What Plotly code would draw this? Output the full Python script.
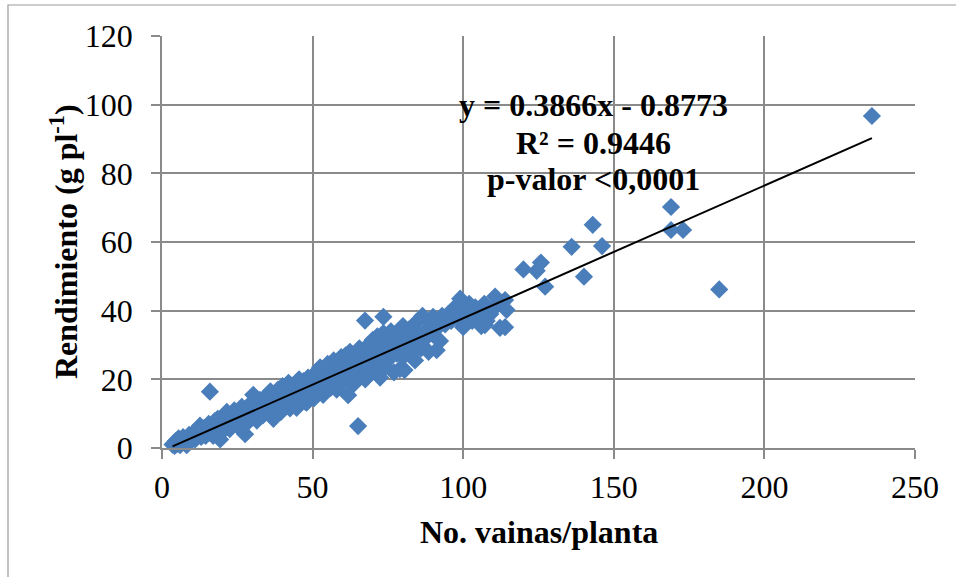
import plotly.graph_objects as go

# Pods per plant (x) and yield per plant (y), one entry per plant
vainas = [
    3.5, 4.2, 4.5, 5.0, 5.5, 6.0, 6.5, 7.0, 7.5, 8.0, 8.2, 9.0, 9.5, 10.0,
    10.5, 11.0, 11.5, 12.0, 12.6, 13.0, 13.5, 14.0, 14.5, 15.0, 15.5, 15.9, 16.0, 16.5,
    17.0, 17.5, 18.0, 18.5, 19.0, 19.3, 20.0, 20.0,
    20.5, 21.0, 21.5, 22.0, 22.5, 23.0, 23.5, 24.0, 24.5, 25.0, 25.5, 26.0, 26.5, 27.0,
    27.6, 28.0, 28.5, 29.0, 29.5, 30.0, 30.3, 30.5,
    31.0, 31.5, 32.0, 32.5, 33.0, 33.5, 34.0, 34.5, 35.0, 35.5, 36.0, 36.5, 37.0, 37.5,
    38.0, 38.5, 39.0, 39.5, 40.0, 40.0,
    40.5, 41.0, 41.5, 42.0, 42.5, 43.0, 43.5, 44.0, 44.7, 45.0, 45.5, 46.0, 46.5, 47.0,
    47.5, 48.0, 48.0, 48.5, 49.0, 49.5, 50.0, 50.0,
    50.5, 51.0, 51.5, 52.0, 52.5, 53.0, 53.5, 54.0, 54.5, 55.0, 55.5, 56.0, 56.5, 57.0,
    57.5, 58.0, 58.5, 59.0, 59.5, 60.0, 60.0,
    60.5, 61.0, 61.8, 62.0, 62.4, 62.5, 63.0, 63.5, 64.0, 64.5, 65.1, 65.0, 65.5, 66.0,
    66.5, 67.0, 67.4, 67.5, 68.0, 68.5, 69.0, 69.5, 70.0, 70.0,
    70.5, 71.0, 71.5, 72.0, 72.4, 73.0, 73.5, 73.5, 74.0, 74.5, 75.0, 75.5, 76.0, 76.5,
    77.0, 77.5, 78.0, 78.0, 79.0, 79.5, 80.0, 80.0,
    80.5, 81.0, 81.5, 82.0, 83.0, 83.5, 84.0, 84.5, 85.0, 86.0, 86.5, 87.0, 88.0, 88.5,
    89.0, 90.0, 90.0, 91.2,
    92.0, 92.3, 93.0, 94.0, 95.0, 96.0, 97.0, 97.8, 98.0, 99.0, 100.0, 100.5,
    102.0, 103.0, 104.0, 105.0, 106.0, 106.7, 107.0, 107.2, 107.8, 109.0, 110.6, 111.0,
    112.2, 113.9, 114.4, 113.9,
    120.0, 124.4, 125.8, 127.2, 136.0, 140.1, 143.0, 146.1, 169.0, 169.0, 173.0, 185.0,
    235.7,
]
rendimiento = [
    1.0, 0.6, 2.0, 1.2, 2.8, 0.8, 2.0, 3.2, 1.5, 2.5, 0.8, 3.8, 2.0, 3.0,
    4.5, 2.5, 3.8, 5.0, 6.5, 3.2, 4.8, 5.8, 3.5, 5.2, 7.0, 16.4, 4.5, 6.0,
    3.5, 7.8, 5.5, 8.5, 6.5, 2.5, 7.5, 4.8,
    9.0, 6.0, 10.5, 8.0, 5.5, 9.5, 7.0, 11.0, 8.5, 6.5, 10.0, 8.0, 12.0, 9.0,
    4.0, 11.5, 7.5, 10.0, 13.0, 9.0, 15.5, 11.5,
    12.5, 8.0, 10.5, 14.0, 11.5, 9.5, 13.0, 15.0, 11.0, 13.5, 16.5, 12.0, 8.5, 14.5,
    12.0, 17.0, 13.5, 10.5, 15.5, 18.0,
    12.5, 16.0, 14.0, 19.0, 11.5, 16.5, 14.5, 18.5, 11.7, 16.0, 20.0, 14.5, 17.5, 19.5,
    13.5, 13.2, 17.0, 20.5, 15.5, 18.5, 21.0, 16.5,
    14.5, 19.0, 22.0, 17.0, 23.5, 20.0, 15.5, 18.5, 22.5, 24.5, 19.5, 17.5, 21.5, 25.5,
    23.0, 17.0, 20.5, 24.0, 26.5, 22.0, 19.0,
    25.0, 27.0, 15.4, 21.0, 28.0, 23.5, 26.0, 18.5, 24.5, 27.5, 6.4, 21.5, 29.0, 25.0,
    23.0, 28.0, 37.1, 20.0, 26.5, 30.0, 24.0, 27.5, 31.5, 22.5,
    29.0, 25.5, 32.5, 27.0, 20.5, 30.0, 38.2, 33.5, 23.5, 28.5, 31.0, 26.0, 34.0, 29.5,
    22.0, 32.0, 27.5, 33.5, 23.0, 30.5, 35.5, 26.5,
    22.7, 32.0, 29.0, 34.5, 28.0, 31.5, 25.5, 36.7, 33.5, 29.0, 38.5, 31.5, 34.5, 28.0,
    37.0, 38.2, 33.0, 28.5,
    35.5, 31.2, 38.5, 36.0, 39.0, 37.0, 40.0, 41.4, 38.0, 43.5, 35.2, 40.0,
    42.0, 37.0, 41.0, 39.0, 35.5, 40.2, 42.0, 35.8, 37.0, 39.0, 44.1, 41.4,
    35.0, 43.1, 40.2, 35.2,
    52.0, 51.6, 54.0, 47.0, 58.6, 49.9, 65.0, 58.8, 70.2, 63.5, 63.5, 46.2,
    96.7,
]

# Linear fit reported on the chart
pendiente = 0.3866
intercepto = -0.8773
ecuacion = ["y = 0.3866x - 0.8773", "R² = 0.9446", "p-valor <0,0001"]

x_ticks = [0, 50, 100, 150, 200, 250]
y_ticks = [0, 20, 40, 60, 80, 100, 120]

AZUL = "#4A7EBB"
GRIS = "#8A8A8A"
SERIF = "Liberation Serif, Times New Roman, serif"

x_fit = [min(vainas), max(vainas)]
y_fit = [pendiente * v + intercepto for v in x_fit]

fig = go.Figure()
fig.add_trace(go.Scatter(
    x=vainas, y=rendimiento, mode="markers",
    marker=dict(symbol="diamond", size=14, color=AZUL, line=dict(width=0)),
    cliponaxis=False, showlegend=False, hoverinfo="x+y",
))
fig.add_trace(go.Scatter(
    x=x_fit, y=y_fit, mode="lines",
    line=dict(color="black", width=2),
    cliponaxis=False, showlegend=False, hoverinfo="skip",
))

eje = dict(
    showgrid=True, gridcolor=GRIS, gridwidth=1.5,
    showline=True, linecolor=GRIS, linewidth=1.5,
    zeroline=False, ticks="outside", ticklen=9, tickwidth=1.5, tickcolor=GRIS,
    tickfont=dict(family=SERIF, size=32, color="black"),
    fixedrange=True,
)
fig.update_xaxes(range=[0, 250], tickvals=x_ticks, ticklabelstandoff=1, **eje)
fig.update_yaxes(range=[0, 120], tickvals=y_ticks, ticklabelstandoff=12, **eje)

W, H = 956, 577
L, R, T, B = 162, 41, 36, 129
pw, ph = W - L - R, H - T - B


def px_x(p):
    return (p - L) / pw


def px_y(p):
    return (H - B - p) / ph


anots = [
    dict(text="<b>No. vainas/planta</b>", x=0.5, y=px_y(532), xref="paper", yref="paper",
         xanchor="center", yanchor="middle", showarrow=False,
         font=dict(family=SERIF, size=32, color="black")),
    dict(text="<b>Rendimiento (g pl<sup>-1</sup>)</b>", x=px_x(64), y=px_y(242),
         xref="paper", yref="paper", xanchor="center", yanchor="middle",
         textangle=-90, showarrow=False,
         font=dict(family=SERIF, size=32, color="black")),
]
for linea, py in zip(ecuacion, [105, 143, 179]):
    anots.append(dict(text="<b>" + linea + "</b>", x=px_x(593), y=px_y(py),
                      xref="paper", yref="paper", xanchor="center", yanchor="middle",
                      showarrow=False, font=dict(family=SERIF, size=32, color="black")))

fig.update_layout(
    width=W, height=H, autosize=False,
    margin=dict(l=L, r=R, t=T, b=B, pad=0),
    paper_bgcolor="white", plot_bgcolor="white",
    annotations=anots,
    shapes=[dict(type="rect", xref="paper", yref="paper",
                 x0=px_x(8), x1=px_x(970), y0=px_y(600), y1=px_y(5),
                 line=dict(color="#999999", width=1.2), fillcolor="rgba(0,0,0,0)",
                 layer="below")],
)

fig.write_html("out.html", config={"displayModeBar": False})
